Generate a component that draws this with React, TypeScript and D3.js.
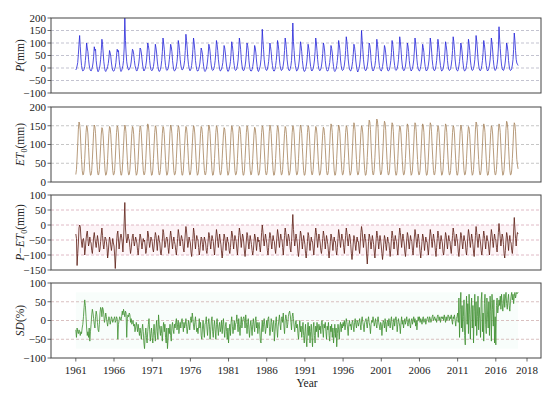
import React from "react";
import * as d3 from "d3";

// Monthly values, one string per year (Jan..Dec), 1961-2018
const years = d3.range(1961, 2019);

const pRows = [
"-8 -2 8 22 55 95 130 85 40 10 -5 -12",
"-10 -5 5 30 60 100 80 65 35 12 -3 -10",
"-12 -6 3 20 45 85 70 75 30 8 -8 -15",
"-10 -3 12 35 70 115 95 60 25 5 -10 -14",
"-8 -4 6 18 40 70 60 45 20 2 -10 -12",
"-12 -5 4 22 50 75 65 70 35 10 -6 -14",
"-10 -2 10 30 80 200 110 60 25 8 -2 -8",
"-6 0 8 24 50 75 70 55 30 10 0 -10",
"-12 -6 5 20 45 80 75 60 35 12 -4 -12",
"-8 -2 10 28 60 100 90 70 30 8 -6 -10",
"-10 -4 6 25 55 95 80 60 28 6 -8 -14",
"-12 -5 8 30 65 120 100 75 35 10 -5 -10",
"-8 -2 12 35 60 95 85 65 30 8 -8 -12",
"-10 -4 8 25 55 110 95 70 35 12 -2 -8",
"-6 0 12 30 70 135 110 80 40 15 0 -10",
"-10 -3 10 35 75 120 100 70 30 10 -6 -12",
"-12 -6 4 20 45 80 70 55 25 5 -10 -14",
"-10 -4 8 28 55 95 85 65 30 8 -6 -10",
"-8 -2 10 30 65 110 95 70 35 12 -4 -12",
"-10 -5 6 22 50 90 80 60 28 8 -8 -14",
"-12 -4 8 26 60 105 90 65 30 10 -6 -10",
"-8 -2 12 32 70 120 100 75 35 12 -4 -10",
"-10 -4 8 28 60 100 90 70 30 8 -8 -12",
"-12 -6 6 24 50 90 80 60 28 6 -10 -14",
"-8 0 12 35 80 155 110 75 35 12 -2 -8",
"-10 -4 8 26 55 100 85 65 30 10 -6 -12",
"-12 -5 10 30 60 110 95 70 32 10 -4 -10",
"-8 -2 12 32 70 120 100 75 35 12 -4 -10",
"-10 -3 10 30 80 180 105 70 32 10 -4 -12",
"-10 -4 8 28 60 105 90 65 30 8 -8 -14",
"-12 -6 6 24 55 95 80 60 28 6 -8 -12",
"-8 -2 12 32 65 120 100 70 34 10 -4 -10",
"-10 -4 8 28 58 100 90 68 30 8 -6 -12",
"-12 -6 6 22 50 90 78 60 26 6 -10 -14",
"-10 -4 10 30 60 110 95 70 32 10 -6 -10",
"-8 -2 12 34 70 125 105 75 36 12 -4 -10",
"-12 -5 8 26 55 95 85 62 28 8 -8 -16",
"-10 -2 12 35 80 150 110 75 35 12 -4 -10",
"-10 -4 8 28 58 100 90 68 30 8 -6 -12",
"-8 -2 10 30 65 115 95 70 32 10 -4 -10",
"-12 -6 6 24 52 90 80 60 28 6 -8 -12",
"-10 -4 10 30 62 110 95 70 32 10 -6 -10",
"-8 -2 12 34 70 125 105 75 36 12 -4 -10",
"-10 -4 8 28 58 100 88 66 30 8 -6 -12",
"-8 -2 12 32 68 120 100 72 34 10 -4 -10",
"-12 -6 6 24 52 95 82 62 28 6 -8 -12",
"-8 -2 12 32 68 120 100 72 34 10 -4 -10",
"-10 -4 10 30 62 115 95 70 32 10 -6 -12",
"-10 -4 8 28 60 105 90 68 30 8 -6 -10",
"-8 -2 12 34 70 125 105 75 36 12 -4 -10",
"-12 -6 8 26 56 100 88 64 30 8 -8 -12",
"-10 -4 10 30 64 115 98 70 32 10 -6 -10",
"-8 -2 12 34 72 130 108 76 36 12 -4 -10",
"-10 -4 10 30 62 110 95 70 32 10 -6 -12",
"-8 -2 12 32 68 120 100 72 34 10 -4 -10",
"-6 0 14 36 80 165 115 78 38 12 -2 -8",
"-10 -4 8 28 58 100 88 66 30 8 -6 -10",
"-8 -2 12 34 75 140 110 70 35 20 15 10",
];

const et0Rows = [
"20 33 64 100 141 160 155 136 94 60 31 19",
"20 32 62 98 132 150 146 128 92 58 30 18",
"19 31 61 97 134 152 147 129 93 59 30 19",
"20 33 63 96 128 145 141 123 90 57 29 18",
"21 32 62 98 130 148 144 126 92 58 31 19",
"20 31 61 99 132 150 146 128 93 59 30 18",
"19 32 63 97 134 152 147 129 91 58 30 19",
"20 33 62 98 130 148 144 126 92 57 31 18",
"21 32 61 96 132 150 146 128 92 58 30 19",
"20 31 62 99 136 155 150 132 94 59 30 18",
"19 32 63 98 132 150 146 128 92 58 31 19",
"20 33 62 97 130 148 144 126 91 57 30 18",
"21 32 61 98 134 152 147 129 93 59 30 19",
"20 31 62 99 132 150 146 128 92 58 31 18",
"19 32 63 97 130 148 144 126 92 58 30 19",
"20 33 62 98 132 150 146 128 93 59 30 18",
"21 32 61 96 130 148 144 126 91 57 31 19",
"20 31 62 99 134 152 147 129 92 58 30 18",
"19 32 63 98 132 150 146 128 92 58 30 19",
"20 33 62 97 128 145 141 123 90 57 31 18",
"21 32 61 98 132 150 146 128 93 59 30 19",
"20 31 62 97 130 148 144 126 92 58 30 18",
"19 32 63 98 132 150 146 128 92 58 31 19",
"20 33 62 96 128 146 142 124 91 57 30 18",
"21 32 61 99 132 150 146 128 93 59 30 19",
"20 31 62 98 134 152 147 129 92 58 31 18",
"19 32 63 97 132 150 146 128 92 58 30 19",
"20 33 62 98 130 148 144 126 91 57 30 18",
"21 32 61 96 132 150 146 128 93 59 31 19",
"20 31 62 99 134 152 147 129 92 58 30 18",
"19 32 63 98 132 150 146 128 92 58 30 19",
"20 33 62 97 130 148 144 126 91 57 31 18",
"21 32 61 98 128 146 142 124 92 58 30 19",
"20 31 62 99 136 155 150 132 94 59 30 18",
"19 32 63 98 134 152 147 129 93 58 31 19",
"20 33 62 97 132 150 146 128 92 58 30 18",
"21 32 64 100 139 158 153 134 94 60 30 19",
"20 31 62 98 132 150 146 128 92 58 31 18",
"19 33 65 102 145 165 160 140 96 61 31 19",
"20 34 66 103 148 168 163 143 97 61 32 19",
"21 33 64 101 143 162 157 138 95 60 31 19",
"20 32 63 100 139 158 153 134 94 59 30 18",
"19 31 62 98 132 150 146 128 92 58 30 19",
"20 33 63 99 136 155 150 132 93 59 31 18",
"21 32 64 100 139 158 153 134 94 60 30 19",
"20 31 62 99 136 155 150 132 93 59 30 18",
"19 32 64 100 139 158 153 134 94 60 31 19",
"20 33 62 98 132 150 146 128 92 58 30 18",
"21 32 63 99 136 155 150 132 93 59 30 19",
"20 31 62 98 132 150 146 128 92 58 31 18",
"19 32 63 98 134 152 147 129 93 58 30 19",
"20 33 62 97 130 148 144 126 91 57 30 18",
"21 33 64 100 141 160 155 136 94 60 31 19",
"20 32 63 99 136 155 150 132 93 59 30 18",
"19 31 62 98 132 150 146 128 92 58 30 19",
"20 33 63 99 136 155 150 132 93 59 31 18",
"21 33 64 101 143 162 157 138 95 60 31 19",
"20 32 63 100 139 158 153 134 94 60 45 35",
];

const pmeRows = [
"-30 -45 -135 -95 -60 -10 0 -5 -40 -60 -75 -50",
"-45 -60 -100 -80 -50 -30 -20 -45 -70 -60 -40 -55",
"-60 -85 -95 -70 -40 -25 -45 -60 -75 -55 -35 -50",
"-70 -90 -80 -55 -30 -10 -35 -65 -80 -60 -40 -45",
"-55 -75 -110 -90 -60 -40 -50 -70 -85 -65 -45 -60",
"-70 -100 -145 -100 -60 -30 -20 -50 -80 -60 -40 -30",
"-40 -60 -90 -50 10 75 -10 -40 -60 -50 -30 -45",
"-50 -75 -95 -80 -55 -35 -30 -55 -70 -55 -40 -50",
"-60 -85 -100 -75 -50 -30 -40 -60 -80 -60 -45 -55",
"-50 -70 -95 -85 -55 -20 -30 -55 -75 -60 -40 -45",
"-55 -80 -90 -70 -45 -25 -35 -60 -85 -55 -35 -50",
"-60 -90 -100 -80 -50 -15 -25 -50 -75 -65 -45 -40",
"-50 -75 -95 -70 -40 -20 -35 -60 -80 -55 -40 -55",
"-65 -85 -100 -75 -45 -15 -30 -55 -70 -50 -35 -45",
"-55 -80 -90 -60 -30 -5 -20 -50 -75 -60 -40 -50",
"-60 -90 -105 -80 -45 -10 -25 -55 -80 -55 -35 -45",
"-50 -75 -100 -85 -60 -40 -45 -65 -85 -60 -40 -50",
"-60 -85 -95 -75 -50 -25 -35 -60 -80 -55 -35 -45",
"-55 -80 -100 -70 -40 -15 -30 -55 -75 -50 -30 -50",
"-65 -90 -110 -85 -55 -30 -40 -60 -85 -60 -40 -55",
"-60 -85 -95 -75 -45 -20 -30 -55 -80 -55 -35 -45",
"-55 -80 -100 -70 -35 -10 -25 -50 -75 -50 -30 -40",
"-60 -90 -105 -80 -50 -25 -35 -60 -80 -55 -35 -50",
"-65 -85 -100 -85 -55 -30 -40 -60 -85 -60 -40 -55",
"-50 -75 -90 -60 -25 0 -20 -50 -70 -50 -30 -45",
"-60 -85 -100 -75 -45 -25 -35 -60 -80 -55 -35 -50",
"-55 -80 -95 -70 -40 -15 -30 -55 -75 -50 -30 -45",
"-50 -75 -100 -70 -35 -10 -25 -50 -70 -50 -30 -40",
"-55 -80 -90 -55 -10 35 -15 -45 -70 -50 -30 -45",
"-60 -90 -105 -80 -45 -20 -30 -55 -80 -55 -35 -50",
"-65 -95 -110 -85 -55 -25 -35 -60 -85 -60 -40 -55",
"-55 -80 -100 -70 -35 -10 -25 -50 -75 -50 -30 -45",
"-60 -85 -95 -75 -45 -20 -35 -55 -80 -55 -35 -50",
"-65 -90 -110 -85 -55 -30 -40 -60 -85 -60 -40 -55",
"-55 -85 -100 -75 -45 -15 -30 -55 -75 -50 -30 -45",
"-50 -75 -95 -65 -35 -10 -25 -50 -70 -50 -30 -40",
"-65 -95 -115 -90 -60 -35 -45 -65 -85 -60 -40 -55",
"-55 -80 -95 -60 -25 -5 -20 -50 -75 -50 -30 -45",
"-60 -100 -130 -95 -55 -30 -40 -60 -80 -55 -35 -50",
"-65 -90 -110 -80 -45 -20 -35 -55 -80 -55 -35 -50",
"-70 -95 -115 -90 -60 -35 -45 -65 -85 -60 -40 -55",
"-60 -85 -105 -80 -45 -20 -35 -55 -80 -55 -35 -50",
"-55 -80 -100 -70 -35 -10 -25 -50 -75 -50 -30 -45",
"-60 -90 -105 -80 -50 -25 -35 -60 -80 -55 -35 -50",
"-55 -85 -100 -70 -40 -15 -30 -55 -75 -50 -30 -45",
"-65 -90 -110 -85 -55 -30 -40 -60 -85 -60 -40 -55",
"-55 -80 -100 -70 -40 -15 -30 -55 -75 -50 -30 -45",
"-60 -85 -105 -75 -45 -20 -35 -55 -80 -55 -35 -50",
"-60 -90 -100 -80 -50 -25 -35 -60 -80 -55 -35 -50",
"-55 -80 -95 -65 -35 -10 -25 -50 -70 -50 -30 -45",
"-60 -90 -105 -80 -50 -25 -35 -60 -80 -55 -35 -50",
"-55 -85 -100 -75 -40 -15 -30 -55 -75 -50 -30 -45",
"-65 -90 -105 -70 -35 -5 -25 -50 -75 -50 -30 -45",
"-60 -85 -100 -80 -45 -20 -35 -55 -80 -55 -35 -50",
"-55 -80 -100 -70 -40 -15 -30 -55 -75 -50 -30 -45",
"-50 -75 -90 -60 -25 5 -20 -45 -70 -50 -30 -40",
"-65 -95 -110 -85 -50 -25 -35 -60 -85 -55 -35 -55",
"-60 -85 -95 -65 -20 25 -10 -45 -70 -40 -25 -30",
];

const sdRows = [
"-25 -45 -20 -30 -35 -25 -30 -40 -30 -35 -20 -10",
"10 35 55 40 10 -20 -40 -30 -45 -20 -55 -30",
"-10 15 30 20 5 -10 -20 10 25 15 -5 -25",
"-30 -10 20 35 30 10 35 30 15 -5 5 20",
"10 -5 -15 0 10 5 -10 0 10 5 -5 0",
"5 10 -5 0 10 5 -50 -10 0 10 5 0",
"10 25 15 30 20 10 25 20 -45 5 15 10",
"20 15 -5 5 -10 -5 0 -15 -10 -30 -20 -5",
"-15 -30 -10 -25 -40 -20 -35 -50 -25 -10 -30 -60",
"-75 -40 -20 -45 -60 -30 -10 5 -25 -55 -35 -20",
"-45 -60 -30 -10 -40 -55 -20 0 -30 -50 15 -10",
"-25 -40 -15 -35 -55 -20 -5 -30 -10 -45 -60 -20",
"-75 -50 -20 -35 -10 -40 -55 -15 -5 -25 -35 -10",
"-20 -5 5 -25 -10 0 -35 -15 -5 -20 0 5",
"-10 -30 -5 -20 -10 5 -15 -35 -20 0 -10 -25",
"0 10 -5 20 5 -15 -25 -5 10 -10 -30 -20",
"-35 -15 5 -20 -5 -40 -50 -20 0 -25 -45 -10",
"-5 10 -20 -40 -10 5 -15 -50 -25 0 10 -30",
"-45 -15 0 -25 -50 -10 5 -20 -40 -15 -5 -30",
"-20 0 -35 -10 5 -25 -45 -15 -5 -30 -50 -20",
"-60 -30 -10 -40 -5 10 -15 -35 -20 0 -25 -10",
"-5 15 -10 -30 5 -15 -40 -10 10 -20 -5 5",
"10 0 -20 15 -5 -35 -10 5 -25 -45 -15 0",
"-20 -40 -10 5 -15 -30 0 10 -20 -5 -35 -15",
"-5 -25 -55 -60 -20 0 -30 -10 5 -15 -35 -20",
"0 -20 5 10 -15 -40 -25 5 -5 -30 -10 0",
"-55 -30 -5 10 -20 -45 -15 0 15 -10 -25 5",
"10 -5 20 -15 -35 0 15 5 -20 -10 10 20",
"25 15 -5 -25 10 20 5 -15 -30 -10 0 -20",
"-10 -35 -50 -20 0 -30 -15 -45 -25 -5 -40 -60",
"-30 -10 -50 -70 -25 -5 -40 -15 -60 -30 -10 -45",
"-70 -20 -5 -40 -60 -15 -30 -5 -20 -45 -10 -25",
"-15 -35 -5 0 -25 -45 -10 -20 -5 -30 -50 -15",
"-25 -5 -40 -55 -15 -30 -10 -45 -20 -60 -35 -10",
"-45 -20 -70 -35 -10 -25 -50 -15 -5 -30 -10 -20",
"-5 -15 0 -25 -10 5 -5 -20 -40 -10 0 -15",
"-10 -25 -5 0 -15 -30 -5 5 -10 -20 0 -5",
"-15 -5 5 -10 -25 0 10 -5 -15 -30 -5 0",
"5 -10 -20 0 10 -5 -15 -35 -10 0 -5 10",
"0 -15 -5 5 -10 -20 0 10 -5 -15 -25 -5",
"-10 -40 -15 0 -5 -20 5 -10 -30 -5 0 -15",
"5 -5 -20 0 10 -10 -25 -5 5 -15 0 10",
"0 -30 -10 5 -5 -15 -35 -5 10 -10 0 -20",
"-5 5 -10 0 10 -5 -15 0 5 -10 -20 0",
"5 -10 0 10 -5 5 -15 0 -25 -5 10 0",
"10 -5 5 0 -10 5 10 -5 0 5 -10 0",
"5 10 0 -5 10 5 -5 0 10 15 0 5",
"10 0 5 -5 10 15 5 0 10 -5 5 10",
"5 10 0 15 5 -5 10 0 5 15 10 0",
"10 5 15 0 -10 10 5 15 0 -15 5 10",
"20 -5 60 -45 30 75 -20 40 -30 10 55 -40",
"-65 20 65 -10 45 -35 70 15 -50 30 60 -20",
"40 -60 25 70 -15 50 -40 10 65 -25 35 5",
"-45 55 75 -30 20 -55 45 70 -10 -35 60 15",
"-20 50 -40 65 25 -55 70 30 -15 55 -60 10",
"-65 40 60 20 35 55 40 65 30 70 45 25",
"50 70 35 60 75 45 30 55 70 40 25 50",
"65 75 55 70 45 65 75 60 70 75 72 75",
];

const xTickYears = [1961, 1966, 1971, 1976, 1981, 1986, 1991, 1996, 2001, 2006, 2011, 2016, 2018];
const xTickIndex = [0, 60, 120, 180, 240, 300, 360, 420, 480, 540, 600, 660, 709];

const parse = (rows: string[]) => rows.flatMap((r) => r.trim().split(/\s+/).map(Number));

const FONT = "'Liberation Serif', 'Times New Roman', serif";
const L = 51, R = 541;

type Panel = {
  data: number[];
  domain: [number, number];
  ticks: number[];
  top: number;
  color: string;
  grid: string;
  label: React.ReactNode;
  band?: [number, number, string];
};

export default function App() {
  const P = parse(pRows);
  const ET = parse(et0Rows);
  const PME = parse(pmeRows);
  const SD = parse(sdRows);
  const x = d3.scaleLinear().domain([-39, 731]).range([L, R]);
  const H = 75;

  const panels: Panel[] = [
    {
      data: P, domain: [-100, 200], ticks: d3.range(-100, 201, 50), top: 18,
      color: "#2323d8", grid: "#b4b4c4",
      label: (<><tspan fontStyle="italic">P</tspan>(mm)</>),
    },
    {
      data: ET, domain: [0, 200], ticks: d3.range(0, 201, 50), top: 107,
      color: "#a5825a", grid: "#b8b8b8",
      label: (<><tspan fontStyle="italic">ET</tspan><tspan fontSize={8} dy={3}>0</tspan><tspan dy={-3}>(mm)</tspan></>),
    },
    {
      data: PME, domain: [-150, 100], ticks: d3.range(-150, 101, 50), top: 195,
      color: "#5a1c12", grid: "#d8a8b8", band: [0, -100, "#fdf4f7"],
      label: (<><tspan fontStyle="italic">P</tspan>−<tspan fontStyle="italic">ET</tspan><tspan fontSize={8} dy={3}>0</tspan><tspan dy={-3}>(mm)</tspan></>),
    },
    {
      data: SD, domain: [-100, 100], ticks: d3.range(-100, 101, 50), top: 283,
      color: "#3e8e2e", grid: "#d0b0b0", band: [75, -75, "#f8fdfb"],
      label: (<><tspan fontStyle="italic">SD</tspan>(%)</>),
    },
  ];

  return (
    <svg width={550} height={393} style={{ display: "block", position: "absolute", left: 0, top: 0 }} fontFamily={FONT}>
      <rect x={0} y={0} width={550} height={393} fill="#fff" />
      {panels.map((p, pi) => {
        const y = d3.scaleLinear().domain(p.domain).range([p.top + H, p.top]);
        const line = d3.line<number>().x((_, i) => x(i)).y((d) => y(d));
        const inner = p.ticks.slice(1, -1);
        const cy = p.top + H / 2;
        return (
          <g key={pi}>
            {p.band && (
              <rect x={x(0)} width={x(P.length - 1) - x(0)} y={y(p.band[0])} height={y(p.band[1]) - y(p.band[0])} fill={p.band[2]} />
            )}
            {inner.map((t) => (
              <line key={t} x1={L} x2={R} y1={y(t)} y2={y(t)} stroke={p.grid} strokeWidth={0.8} strokeDasharray="3,2" />
            ))}
            <path d={line(p.data) || ""} fill="none" stroke={p.color} strokeWidth={0.8} strokeLinejoin="round" />
            <rect x={L} y={p.top} width={R - L} height={H} fill="none" stroke="#444" strokeWidth={1} />
            {p.ticks.map((t) => (
              <g key={t}>
                <line x1={L - 3.5} x2={L} y1={y(t)} y2={y(t)} stroke="#444" strokeWidth={0.8} />
                <text x={L - 5} y={y(t)} dy="0.35em" textAnchor="end" fontSize={11} fill="#222">{t < 0 ? "−" + Math.abs(t) : t}</text>
              </g>
            ))}
            <text transform={`translate(24,${cy}) rotate(-90)`} textAnchor="middle" fontSize={11.5} fill="#222">{p.label}</text>
            {pi === 3 && xTickIndex.map((xi, k) => (
              <g key={xi}>
                <line x1={x(xi)} x2={x(xi)} y1={p.top + H} y2={p.top + H + 3.5} stroke="#444" strokeWidth={0.8} />
                <text x={x(xi)} y={p.top + H + 16} textAnchor="middle" fontSize={11} fill="#222">{xTickYears[k]}</text>
              </g>
            ))}
          </g>
        );
      })}
      <text x={307} y={387} textAnchor="middle" fontSize={11.5} fill="#222">Year</text>
    </svg>
  );
}
